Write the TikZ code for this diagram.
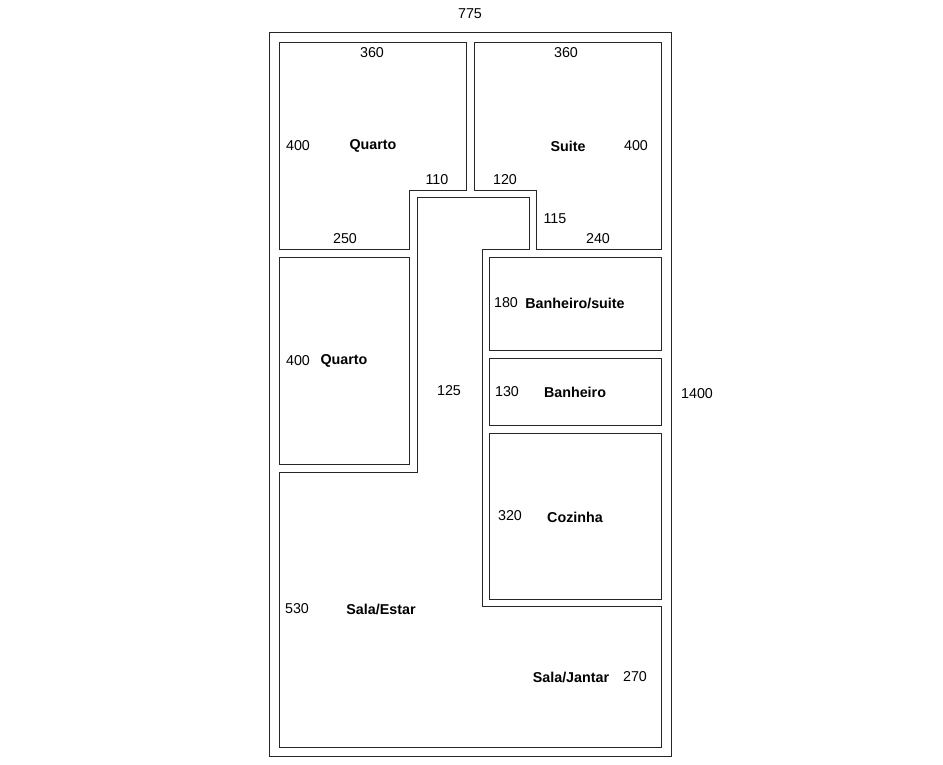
\documentclass[tikz,border=0pt]{standalone}
\usepackage{fontspec}
\setmainfont{Liberation Sans}
\begin{document}
\begin{tikzpicture}[x=1pt,y=-1pt,
  wall/.style={draw=black!85,line width=0.8pt},
  dim/.style={font=\fontsize{14.3}{16}\selectfont,inner sep=0pt,anchor=center},
  room/.style={font=\fontsize{14.3}{16}\selectfont\bfseries,inner sep=0pt,anchor=center}]
\useasboundingbox (0,0) rectangle (943,765);
% outer wall
\draw[wall] (269,32) rectangle (671,756);
% top-left Quarto
\draw[wall] (279,42) -- (466,42) -- (466,190) -- (409,190) -- (409,249) -- (279,249) -- cycle;
% Suite
\draw[wall] (474,42) -- (661,42) -- (661,249) -- (536,249) -- (536,190) -- (474,190) -- cycle;
% corridor + living
\draw[wall] (417,197) -- (529,197) -- (529,249) -- (482,249) -- (482,606) -- (661,606) -- (661,747) -- (279,747) -- (279,472) -- (417,472) -- cycle;
% second Quarto
\draw[wall] (279,257) rectangle (409,464);
% Banheiro/suite
\draw[wall] (489,257) rectangle (661,350);
% Banheiro
\draw[wall] (489,358) rectangle (661,425);
% Cozinha
\draw[wall] (489,433) rectangle (661,599);
% labels
\node[dim] (d775) at (470,14) {775};
\node[dim] (d360a) at (372,53) {360};
\node[dim] (d360b) at (566,53) {360};
\node[dim] (d400a) at (298,146) {400};
\node[room] (q1) at (373,146) {Quarto};
\node[room] (su) at (568,146) {Suite};
\node[dim] (d400b) at (636,146) {400};
\node[dim] (d110) at (437,180) {110};
\node[dim] (d120) at (505,180) {120};
\node[dim] (d115) at (555,219) {115};
\node[dim] (d250) at (345,239) {250};
\node[dim] (d240) at (598,239) {240};
\node[dim] (d180) at (506,303) {180};
\node[room] (bs) at (575,303) {Banheiro/suite};
\node[dim] (d400c) at (298,361) {400};
\node[room] (q2) at (344,361) {Quarto};
\node[dim] (d125) at (449,391) {125};
\node[dim] (d130) at (507,392) {130};
\node[room] (ba) at (575,392) {Banheiro};
\node[dim] (d1400) at (697,394) {1400};
\node[dim] (d320) at (510,516) {320};
\node[room] (co) at (575,517) {Cozinha};
\node[dim] (d530) at (297,609) {530};
\node[room] (se) at (381,609) {Sala/Estar};
\node[room] (sj) at (571,677) {Sala/Jantar};
\node[dim] (d270) at (635,677) {270};
\end{tikzpicture}
\end{document}
